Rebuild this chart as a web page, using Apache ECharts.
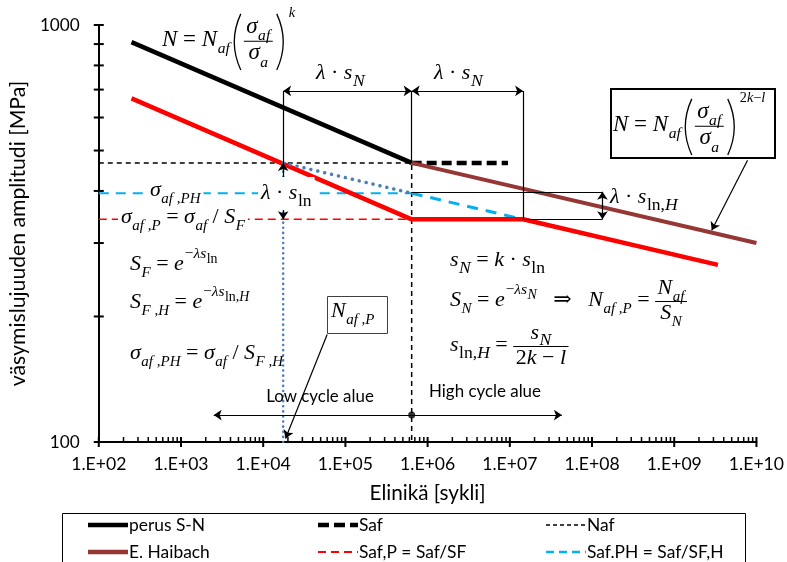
<!DOCTYPE html>
<html>
<head>
<meta charset="utf-8">
<script src="https://cdn.jsdelivr.net/npm/echarts@6/dist/echarts.min.js"></script>
<style>
  html, body { margin: 0; padding: 0; background: #fff; }
  #chart { width: 787px; height: 562px; }
</style>
</head>
<body>
<div id="chart"></div>
<script>
// ---- Curves: N = cycles, S = stress amplitude [MPa] ----
const basicN = [250, 6.4e5];            // perus S-N
const basicS = [910, 467];
const safN = [6.4e5, 9.5e6];            // Saf (fatigue limit level)
const safS = [467, 467];
const nafN = [100, 6.4e5, 6.4e5];       // Naf guide line
const nafS = [467, 467, 100];
const haibachN = [6.4e5, 1e10];         // E. Haibach continuation
const haibachS = [467, 300];
const safPN = [100, 6.4e5];             // Saf,P = Saf/SF
const safPS = [342, 342];
const safPHN = [100, 6.4e5];            // Saf.PH = Saf/SF,H
const safPHS = [395, 395];
const safPHSlopeN = [6.4e5, 1.45e7];
const safPHSlopeS = [395, 342];
const designN = [250, 6.4e5, 1.45e7, 3.4e9];   // shifted design curve
const designS = [667, 342, 342, 266];
const nafPLinkN = [1.75e4, 6.4e5];              // Naf,P construction (dotted)
const nafPLinkS = [467, 395];
const nafPDropN = [1.75e4, 1.75e4];
const nafPDropS = [100, 467];

// ---- Axis ticks ----
const xDecades = [1e2, 1e3, 1e4, 1e5, 1e6, 1e7, 1e8, 1e9, 1e10];
const minorSteps = [2, 3, 4, 5, 6, 7, 8, 9];
const yTicks = [100, 200, 300, 400, 500, 600, 700, 800, 900, 1000];

// ---- Construction marks (data space) ----
const N_AF = 6.4e5, N_AFP = 1.75e4, N_H = 1.45e7, N_LNH = 1.34e8;
const bracketS = 695, lnHTopS = 398, cycleS = 116;

const SERIF = '"Liberation Serif","DejaVu Serif",serif';
const SANS = 'Lato, "Open Sans", sans-serif';

const mctx = document.createElement('canvas').getContext('2d');
function textW(t, font) { mctx.font = font; return mctx.measureText(t).width; }
function fit(t, w, fam) { return +(w / textW(t, '100px ' + fam) * 100).toFixed(1); }

const tickSize = fit('1.E+02', 55, SANS);
const ySize = fit('1000', 40, SANS);
const xNameSize = fit('Elinikä [sykli]', 116, SANS);
const yNameSize = fit('väsymislujuuden amplitudi [MPa]', 305, SANS);
const legSize = fit('perus S-N', 76, SANS);
const cycSize = fit('Low cycle alue', 108, SANS);

// ---- Tiny math typesetter for the formula annotations ----
const I = t => ({ k: 't', t, it: true });
const R = t => ({ k: 't', t, it: false });
const Sub = (c, s = 0.68) => ({ k: 'sub', c, s });
const Sup = (c, dy = 0.5, s = 0.62) => ({ k: 'sup', c, dy, s });
const Frac = (num, den) => ({ k: 'frac', num, den });
const Par = c => ({ k: 'par', c });

function fontOf(sz, it) { return (it ? 'italic ' : '') + sz.toFixed(1) + 'px ' + SERIF; }

function paren(x, ax, h, left) {
  const ex = left ? x + 9 : x + 2, cx = left ? x - 4 : x + 15;
  return { type: 'bezierCurve', silent: true, z: 20,
    shape: { x1: ex, y1: ax - h, x2: ex, y2: ax + h, cpx1: cx, cpy1: ax },
    style: { stroke: '#000', lineWidth: 1.3, fill: null } };
}

function lay(nodes, x, base, sz, out) {
  for (const n of nodes) {
    if (n.k === 't') {
      const f = fontOf(sz, n.it);
      out.push({ type: 'text', silent: true, z: 20, x, y: base - 0.32 * sz,
        style: { text: n.t, font: f, fill: '#000', align: 'left', verticalAlign: 'middle' } });
      x += textW(n.t, f);
    } else if (n.k === 'sub') {
      x = lay(n.c, x + 0.5, base + 0.3 * sz, sz * n.s, out);
    } else if (n.k === 'sup') {
      x = lay(n.c, x + 1, base - n.dy * sz, sz * n.s, out);
    } else if (n.k === 'frac') {
      const wn = lay(n.num, 0, 0, sz, []), wd = lay(n.den, 0, 0, sz, []);
      const w = Math.max(wn, wd) + 5, ax = base - 0.25 * sz;
      lay(n.num, x + (w - wn) / 2, ax - 0.3 * sz, sz, out);
      lay(n.den, x + (w - wd) / 2, ax + 0.85 * sz, sz, out);
      out.push({ type: 'line', silent: true, z: 20,
        shape: { x1: x, y1: ax, x2: x + w, y2: ax }, style: { stroke: '#000', lineWidth: 1 } });
      x += w;
    } else if (n.k === 'par') {
      const ax = base - 0.22 * sz, h = 1.22 * sz;
      out.push(paren(x + 2, ax, h, true));
      x = lay(n.c, x + 14, base, sz, out) + 2;
      out.push(paren(x, ax, h, false));
      x += 13;
    }
  }
  return x;
}

const gfx = [];
function formula(x, base, sz, nodes, bg) {
  const els = [];
  const end = lay(nodes, x, base, sz, els);
  if (bg) {
    gfx.push({ type: 'rect', silent: true, z: 19,
      shape: { x: x - 3, y: base - bg[0], width: end - x + 6, height: bg[0] + bg[1] },
      style: { fill: '#fff' } });
  }
  gfx.push(...els);
}

const sigAfFrac = Par([Frac([I('σ'), Sub([I('af')])], [I('σ'), Sub([I('a')])])]);

// boxes
gfx.push({ type: 'rect', silent: true, z: 18, shape: { x: 611, y: 89, width: 164, height: 69 },
  style: { fill: '#fff', stroke: '#000', lineWidth: 2 } });
gfx.push({ type: 'rect', silent: true, z: 18, shape: { x: 327.5, y: 296.5, width: 60, height: 37 },
  style: { fill: '#fff', stroke: '#404040', lineWidth: 1 } });

const FS = 22;
formula(162, 47, 23, [I('N'), R(' = '), I('N'), Sub([I('af')]), sigAfFrac, Sup([I('k')], 1.25)]);
formula(613, 132, 23, [I('N'), R(' = '), I('N'), Sub([I('af')]), sigAfFrac,
  Sup([R('2'), I('k'), R('−'), I('l')], 1.25)]);
formula(150, 197, FS, [I('σ'), Sub([I('af ,PH')])], [17, 8]);
formula(121, 224, FS, [I('σ'), Sub([I('af ,P')]), R(' = '), I('σ'), Sub([I('af')]), R(' / '), I('S'), Sub([I('F')])], [17, 8]);
formula(261, 200, FS, [I('λ'), R(' · '), I('s'), Sub([R('ln')], 0.8)], [23, 10]);
formula(130, 271, FS, [I('S'), Sub([I('F')]), R(' = '), I('e'), Sup([R('−'), I('λs'), Sub([R('ln')], 0.9)], 0.55, 0.7)]);
formula(130, 309, FS, [I('S'), Sub([I('F ,H')]), R(' = '), I('e'), Sup([R('−'), I('λs'), Sub([R('ln,'), I('H')], 0.9)], 0.55, 0.7)]);
formula(130, 360, FS, [I('σ'), Sub([I('af ,PH')]), R(' = '), I('σ'), Sub([I('af')]), R(' / '), I('S'), Sub([I('F ,H')])]);
formula(450, 267, FS, [I('s'), Sub([I('N')], 0.8), R(' = '), I('k'), R(' · '), I('s'), Sub([R('ln')], 0.8)]);
formula(450, 307, FS, [I('S'), Sub([I('N')]), R(' = '), I('e'), Sup([R('−'), I('λs'), Sub([I('N')], 0.9)], 0.55, 0.7),
  R('   ⇒   '), I('N'), Sub([I('af ,P')]), R(' = '), Frac([I('N'), Sub([I('af')])], [I('S'), Sub([I('N')])])]);
formula(450, 352, FS, [I('s'), Sub([R('ln,'), I('H')], 0.8), R(' = '), Frac([I('s'), Sub([I('N')], 0.8)], [R('2'), I('k'), R(' − '), I('l')])]);
formula(316, 80, FS, [I('λ'), R(' · '), I('s'), Sub([I('N')], 0.8)]);
formula(434, 80, FS, [I('λ'), R(' · '), I('s'), Sub([I('N')], 0.8)]);
formula(610, 204, FS, [I('λ'), R(' · '), I('s'), Sub([R('ln,'), I('H')], 0.8)]);
formula(331, 318, FS, [I('N'), Sub([I('af ,P')])]);

gfx.push({ type: 'text', silent: true, z: 20, x: 320, y: 397,
  style: { text: 'Low cycle alue', font: cycSize + 'px ' + SANS, fill: '#000', align: 'center', verticalAlign: 'middle' } });
gfx.push({ type: 'text', silent: true, z: 20, x: 485, y: 392,
  style: { text: 'High cycle alue', font: cycSize + 'px ' + SANS, fill: '#000', align: 'center', verticalAlign: 'middle' } });

// ---- legend (two rows, three aligned columns) ----
const legendItems = [
  { name: 'perus S-N',         x: 88,  y: 525, color: '#000',    width: 4.5, dash: null },
  { name: 'Saf',               x: 318, y: 525, color: '#000',    width: 4.5, dash: [11, 5] },
  { name: 'Naf',               x: 546, y: 525, color: '#000',    width: 1.5, dash: [4, 3] },
  { name: 'E. Haibach',        x: 88,  y: 552, color: '#953735', width: 4.5, dash: null },
  { name: 'Saf,P = Saf/SF',    x: 318, y: 552, color: '#ff0000', width: 2,   dash: [8, 5] },
  { name: 'Saf.PH = Saf/SF,H', x: 546, y: 552, color: '#00b0f0', width: 2.5, dash: [8, 5] }
];
gfx.push({ type: 'rect', silent: true, z: 1, shape: { x: 62.5, y: 513.5, width: 683, height: 70 },
  style: { fill: null, stroke: '#000', lineWidth: 1 } });
legendItems.forEach(it => {
  gfx.push({ type: 'line', silent: true, z: 2,
    shape: { x1: it.x, y1: it.y, x2: it.x + 40, y2: it.y },
    style: { stroke: it.color, lineWidth: it.width, lineDash: it.dash } });
  gfx.push({ type: 'text', silent: true, z: 2, x: it.x + 41, y: it.y,
    style: { text: it.name, font: legSize + 'px ' + SANS, fill: '#000', align: 'left', verticalAlign: 'middle' } });
});

// ---- helpers ----
const zip = (xs, ys) => xs.map((v, i) => [v, ys[i]]);
function lineSeries(name, xs, ys, color, width, type, z, cap) {
  return { name, type: 'line', data: zip(xs, ys), symbol: 'none', z, silent: true,
    lineStyle: { color, width, type, cap: cap || 'butt' }, itemStyle: { color } };
}
function annot(segs, symbol, z) {
  return { type: 'lines', coordinateSystem: 'cartesian2d', silent: true, z: z || 6,
    symbol, symbolSize: 8,
    lineStyle: { color: '#000', width: 1.2, opacity: 1, curveness: 0 },
    data: segs.map(c => ({ coords: c })) };
}

const xTickData = [];
xDecades.forEach(d => {
  xTickData.push([d, 100, 1]);
  if (d < 1e10) minorSteps.forEach(m => xTickData.push([d * m, 100, 0]));
});
const yTickData = yTicks.map(v => [100, v, 1]);

function tickRender(dir) {
  return function (params, api) {
    const p = api.coord([api.value(0), api.value(1)]);
    const major = api.value(2) === 1;
    const shape = dir === 'x'
      ? { x1: p[0], y1: p[1] - 5, x2: p[0], y2: major ? p[1] + 5 : p[1] }
      : { x1: p[0] - 5, y1: p[1], x2: p[0] + 5, y2: p[1] };
    return { type: 'line', shape, style: { stroke: '#000', lineWidth: major ? 2 : 1.5 } };
  };
}

const chart = echarts.init(document.getElementById('chart'), null, { renderer: 'canvas' });
chart.setOption({
  animation: false,
  backgroundColor: '#fff',
  grid: { left: 96, right: 29, top: 25, bottom: 120 },
  xAxis: {
    type: 'log', logBase: 10, min: 100, max: 1e10,
    splitLine: { show: false }, axisTick: { show: false },
    axisLine: { lineStyle: { color: '#000', width: 2 } },
    axisLabel: { formatter: v => '1.E+' + String(Math.round(Math.log10(v))).padStart(2, '0'),
      fontFamily: SANS, fontSize: tickSize, color: '#000', margin: 13 },
    name: 'Elinikä [sykli]', nameLocation: 'middle', nameGap: 41,
    nameTextStyle: { fontFamily: SANS, fontSize: xNameSize, color: '#000' }
  },
  yAxis: {
    type: 'log', logBase: 10, min: 100, max: 1000,
    splitLine: { show: false }, axisTick: { show: false },
    axisLine: { lineStyle: { color: '#000', width: 2 } },
    axisLabel: { formatter: v => String(v), fontFamily: SANS, fontSize: ySize, color: '#000', margin: 19 },
    name: 'väsymislujuuden amplitudi [MPa]', nameLocation: 'middle', nameRotate: 90, nameGap: 58,
    nameTextStyle: { fontFamily: SANS, fontSize: yNameSize, color: '#000' }
  },
  graphic: { elements: gfx },
  series: [
    lineSeries('Naf', nafN, nafS, '#000', 1.5, [5, 4], 2),
    lineSeries('Saf,P = Saf/SF', safPN, safPS, '#ff0000', 1.5, [8, 5], 2),
    lineSeries('Saf.PH = Saf/SF,H', safPHN, safPHS, '#00b0f0', 2, [10, 7], 2),
    lineSeries('Saf.PH slope', safPHSlopeN, safPHSlopeS, '#00b0f0', 3, [11, 8], 2),
    lineSeries('design', designN, designS, '#ff0000', 4.5, 'solid', 3),
    lineSeries('perus S-N', basicN, basicS, '#000', 4.5, 'solid', 3),
    lineSeries('Saf', safN, safS, '#000', 4.5, [10, 5], 3),
    lineSeries('E. Haibach', haibachN, haibachS, '#953735', 4, 'solid', 3),
    lineSeries('Naf,P drop', nafPDropN, nafPDropS, '#4a7ebb', 2.5, [0.1, 5], 4, 'round'),
    lineSeries('Naf,P link', nafPLinkN, nafPLinkS, '#4a7ebb', 3.5, [0.1, 7], 4, 'round'),
    { type: 'custom', silent: true, clip: false, z: 5, data: xTickData, renderItem: tickRender('x') },
    { type: 'custom', silent: true, clip: false, z: 5, data: yTickData, renderItem: tickRender('y') },
    // bracket verticals and λ·s_ln,H guide lines
    annot([
      [[N_AFP, bracketS], [N_AFP, 467]],
      [[N_AF, bracketS], [N_AF, 467]],
      [[N_H, bracketS], [N_H, 342]],
      [[N_AF, lnHTopS], [N_LNH, lnHTopS]],
      [[N_H, 342], [N_LNH, 342]]
    ], ['none', 'none']),
    // double-headed dimension arrows
    annot([
      [[N_AFP, bracketS], [N_AF, bracketS]],
      [[N_AF, bracketS], [N_H, bracketS]],
      [[N_AFP, 467], [N_AFP, 342]],
      [[N_LNH, lnHTopS], [N_LNH, 342]]
    ], ['arrow', 'arrow']),
    // single arrows: region arrows and pointers
    annot([
      [[N_AF, cycleS], [2500, cycleS]],
      [[N_AF, cycleS], [4.3e7, cycleS]],
      [[7.8e9, 474], [2.86e9, 322]],
      [[6.0e4, 181], [1.87e4, 102]]
    ], ['none', 'arrow']),
    { type: 'scatter', silent: true, z: 7, data: [[N_AF, cycleS]], symbol: 'circle', symbolSize: 7,
      itemStyle: { color: '#000' } }
  ]
});
</script>
</body>
</html>
